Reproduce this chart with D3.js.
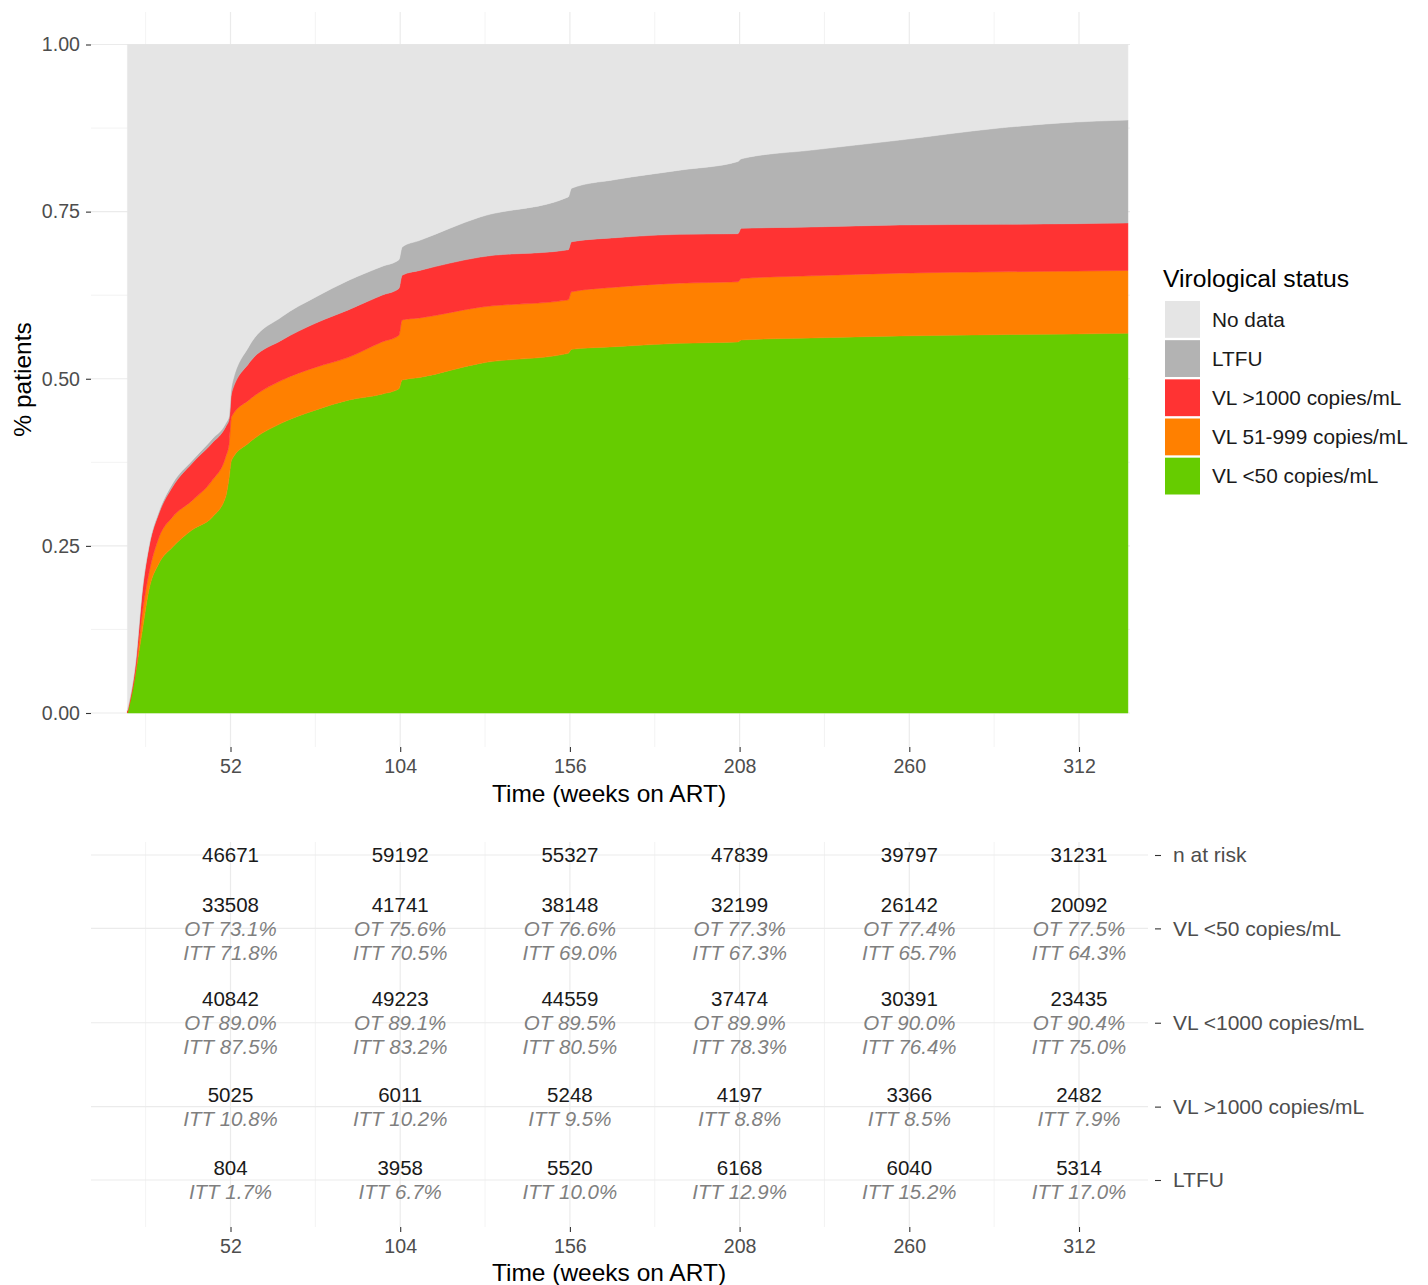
<!DOCTYPE html>
<html>
<head>
<meta charset="utf-8">
<script src="https://cdn.jsdelivr.net/npm/d3@7"></script>
<style>
  body { margin: 0; background: #fff; }
  svg { font-family: "Liberation Sans", Arial, sans-serif; }
</style>
</head>
<body>
<svg id="chart" width="1428" height="1285"></svg>
<script>
// weeks on ART at which the stacked shares were read
const weeks = [20.4, 22.9, 25, 27, 30.1, 34.2, 40.3, 46.4, 50.5, 51.6, 52.3, 57.6, 67.8, 78, 88.1,
  98.4, 103.6, 104.6, 110, 128.5, 155.5, 156.5, 170, 189.6, 207.5, 208.5, 230, 257, 287.5, 311, 327];

// share of patients in each status (layer thickness)
const vlUnder50 = [0, .06, .124, .184, .224, .248, .274, .293, .323, .353, .378, .404, .434, .453, .468,
  .477, .485, .498, .502, .523, .538, .544, .548, .553, .555, .558, .561, .564, .566, .567, .568];
const vl51to999 = [0, .002, .026, .025, .039, .045, .044, .055, .06, .051, .065, .064, .064, .064, .064,
  .078, .08, .09, .089, .084, .08, .086, .089, .09, .09, .092, .093, .094, .094, .094, .094];
const vlOver1000 = [.003, .013, .034, .039, .036, .045, .056, .056, .045, .036, .035, .055, .06, .066, .071,
  .07, .07, .067, .071, .075, .075, .075, .074, .073, .072, .075, .073, .072, .071, .071, .071];
const ltfu = [.001, .001, .002, .002, .003, .005, .004, .006, .005, .005, .01, .025, .035, .039, .044,
  .043, .043, .042, .045, .06, .079, .08, .087, .096, .108, .104, .115, .127, .144, .152, .154];
const noData = [.996, .924, .814, .75, .698, .657, .622, .59, .567, .555, .512, .452, .407, .378, .353,
  .332, .322, .303, .293, .258, .228, .215, .202, .188, .175, .171, .158, .143, .125, .116, .113];

const weekTicks = [52, 104, 156, 208, 260, 312];
const weekMinor = [26, 78, 130, 182, 234, 286];
const yTicks = [0, 0.25, 0.5, 0.75, 1];
const yMinor = [0.125, 0.375, 0.625, 0.875];

const statusKeys = ["vl50", "vl51", "vl1000", "ltfu", "nodata"];
const statusLabels = {
  nodata: "No data", ltfu: "LTFU", vl1000: "VL >1000 copies/mL",
  vl51: "VL 51-999 copies/mL", vl50: "VL <50 copies/mL"
};
const statusColors = {
  nodata: "#e5e5e5", ltfu: "#b3b3b3", vl1000: "#ff3333", vl51: "#ff8000", vl50: "#66cc00"
};

// risk table
const rowLabels = ["n at risk", "VL <50 copies/mL", "VL <1000 copies/mL", "VL >1000 copies/mL", "LTFU"];
const nAtRisk = [46671, 59192, 55327, 47839, 39797, 31231];
const n50 = [33508, 41741, 38148, 32199, 26142, 20092];
const ot50 = [73.1, 75.6, 76.6, 77.3, 77.4, 77.5];
const itt50 = [71.8, 70.5, 69.0, 67.3, 65.7, 64.3];
const n1000 = [40842, 49223, 44559, 37474, 30391, 23435];
const ot1000 = [89.0, 89.1, 89.5, 89.9, 90.0, 90.4];
const itt1000 = [87.5, 83.2, 80.5, 78.3, 76.4, 75.0];
const nHigh = [5025, 6011, 5248, 4197, 3366, 2482];
const ittHigh = [10.8, 10.2, 9.5, 8.8, 8.5, 7.9];
const nLtfu = [804, 3958, 5520, 6168, 6040, 5314];
const ittLtfu = [1.7, 6.7, 10.0, 12.9, 15.2, 17.0];

const svg = d3.select("#chart");
const grid = "#ebebeb";
const axisText = "#4d4d4d";

const panel = { left: 91, right: 1130, top: 12, bottom: 747 };
const x = d3.scaleLinear().domain([52, 312]).range([230.5, 1079]);
const y = d3.scaleLinear().domain([0, 1]).range([713, 44.5]);

// gridlines
const g = svg.append("g");
g.selectAll(".vmin").data(weekMinor).join("line")
  .attr("x1", d => x(d)).attr("x2", d => x(d))
  .attr("y1", panel.top).attr("y2", panel.bottom)
  .attr("stroke", grid).attr("stroke-width", 0.6);
g.selectAll(".vmaj").data(weekTicks).join("line")
  .attr("x1", d => x(d)).attr("x2", d => x(d))
  .attr("y1", panel.top).attr("y2", panel.bottom)
  .attr("stroke", grid).attr("stroke-width", 1.2);
g.selectAll(".hmin").data(yMinor).join("line")
  .attr("x1", panel.left).attr("x2", panel.right)
  .attr("y1", d => y(d)).attr("y2", d => y(d))
  .attr("stroke", grid).attr("stroke-width", 0.6);
g.selectAll(".hmaj").data(yTicks).join("line")
  .attr("x1", panel.left).attr("x2", panel.right)
  .attr("y1", d => y(d)).attr("y2", d => y(d))
  .attr("stroke", grid).attr("stroke-width", 1.2);

// stacked areas
const rows = weeks.map((w, i) => ({
  week: w, vl50: vlUnder50[i], vl51: vl51to999[i], vl1000: vlOver1000[i],
  ltfu: ltfu[i], nodata: noData[i]
}));
const series = d3.stack().keys(statusKeys)(rows);
const area = d3.area()
  .curve(d3.curveMonotoneX)
  .x(d => x(d.data.week))
  .y0(d => y(d[0]))
  .y1(d => y(d[1]));
svg.append("g").selectAll("path").data(series).join("path")
  .attr("d", area)
  .attr("fill", d => statusColors[d.key])
  .attr("stroke", d => statusColors[d.key])
  .attr("stroke-width", 0.5);

// axes
function styleAxis(sel, size) {
  sel.select(".domain").remove();
  sel.selectAll(".tick line").attr("stroke", "#333").attr("stroke-width", 1.1);
  sel.selectAll(".tick text").attr("fill", axisText).style("font-size", (size || 19.6) + "px")
    .style("font-family", '"Liberation Sans", Arial, sans-serif');
}
svg.append("g")
  .attr("transform", `translate(0,${panel.bottom})`)
  .call(d3.axisBottom(x).tickValues(weekTicks).tickSize(5).tickPadding(7))
  .call(styleAxis);
svg.append("g")
  .attr("transform", `translate(${panel.left},0)`)
  .call(d3.axisLeft(y).tickValues(yTicks).tickFormat(d3.format(".2f")).tickSize(5).tickPadding(6))
  .call(styleAxis);

svg.append("text")
  .attr("x", 609).attr("y", 802)
  .attr("text-anchor", "middle")
  .style("font-size", "24.5px")
  .text("Time (weeks on ART)");
svg.append("text")
  .attr("transform", `translate(31,${(panel.top + panel.bottom) / 2}) rotate(-90)`)
  .attr("text-anchor", "middle")
  .style("font-size", "24.5px")
  .text("% patients");

// legend
const legend = svg.append("g").attr("transform", "translate(1165,0)");
legend.append("text")
  .attr("x", -2).attr("y", 287)
  .style("font-size", "24.7px")
  .text("Virological status");
const legendOrder = statusKeys.slice().reverse();
const ly = d3.scaleBand().domain(legendOrder).range([301, 494.5]).paddingInner(0.06);
legend.selectAll("rect").data(legendOrder).join("rect")
  .attr("x", 0).attr("y", d => ly(d))
  .attr("width", 35).attr("height", ly.bandwidth())
  .attr("fill", d => statusColors[d]);
legend.selectAll(".lab").data(legendOrder).join("text")
  .attr("x", 47).attr("y", d => ly(d) + ly.bandwidth() / 2)
  .attr("dy", "0.35em")
  .attr("fill", "#1a1a1a")
  .style("font-size", "20.8px")
  .text(d => statusLabels[d]);

// ---- risk table ----
const tPanel = { left: 91, right: 1148, top: 842, bottom: 1227 };
const fmtPct = d3.format(".1f");
const tableCells = [
  { label: rowLabels[0], lines: nAtRisk.map(n => [String(n)]) },
  { label: rowLabels[1], lines: n50.map((n, i) => [String(n), `OT ${fmtPct(ot50[i])}%`, `ITT ${fmtPct(itt50[i])}%`]) },
  { label: rowLabels[2], lines: n1000.map((n, i) => [String(n), `OT ${fmtPct(ot1000[i])}%`, `ITT ${fmtPct(itt1000[i])}%`]) },
  { label: rowLabels[3], lines: nHigh.map((n, i) => [String(n), `ITT ${fmtPct(ittHigh[i])}%`]) },
  { label: rowLabels[4], lines: nLtfu.map((n, i) => [String(n), `ITT ${fmtPct(ittLtfu[i])}%`]) }
];
// row centres follow the number of text lines in each row
let acc = 0;
tableCells.forEach((r, i) => {
  const u = r.lines[0].length + 1.5;
  if (i > 0) acc += (tableCells[i - 1].lines[0].length + 1.5 + u) / 2;
  r.pos = acc;
});
const ty = d3.scaleLinear().domain([0, acc]).range([855, 1180]);

const tg = svg.append("g");
tg.selectAll(".vmin").data(weekMinor).join("line")
  .attr("x1", d => x(d)).attr("x2", d => x(d))
  .attr("y1", tPanel.top).attr("y2", tPanel.bottom)
  .attr("stroke", grid).attr("stroke-width", 0.6);
tg.selectAll(".vmaj").data(weekTicks).join("line")
  .attr("x1", d => x(d)).attr("x2", d => x(d))
  .attr("y1", tPanel.top).attr("y2", tPanel.bottom)
  .attr("stroke", grid).attr("stroke-width", 1.2);
tg.selectAll(".hmaj").data(tableCells).join("line")
  .attr("x1", tPanel.left).attr("x2", tPanel.right)
  .attr("y1", d => ty(d.pos)).attr("y2", d => ty(d.pos))
  .attr("stroke", grid).attr("stroke-width", 1.2);

const lineH = 24;
tableCells.forEach(r => {
  r.lines.forEach((cell, j) => {
    const cx = x(weekTicks[j]);
    const top = ty(r.pos) - (cell.length - 1) * lineH / 2;
    cell.forEach((t, k) => {
      tg.append("text")
        .attr("x", cx).attr("y", top + k * lineH)
        .attr("dy", "0.36em")
        .attr("text-anchor", "middle")
        .attr("fill", k === 0 ? "#1a1a1a" : "#7f7f7f")
        .style("font-style", k === 0 ? "normal" : "italic")
        .style("font-size", "20.5px")
        .text(t);
    });
  });
});

svg.append("g")
  .attr("transform", `translate(0,${tPanel.bottom})`)
  .call(d3.axisBottom(x).tickValues(weekTicks).tickSize(5).tickPadding(7))
  .call(styleAxis);
svg.append("g")
  .attr("transform", "translate(1155,0)")
  .call(d3.axisRight(ty).tickValues(tableCells.map(d => d.pos))
    .tickFormat((d, i) => tableCells[i].label).tickSize(6).tickPadding(12))
  .call(sel => styleAxis(sel, 21));

svg.append("text")
  .attr("x", 609).attr("y", 1281)
  .attr("text-anchor", "middle")
  .style("font-size", "24.5px")
  .text("Time (weeks on ART)");
</script>
</body>
</html>
